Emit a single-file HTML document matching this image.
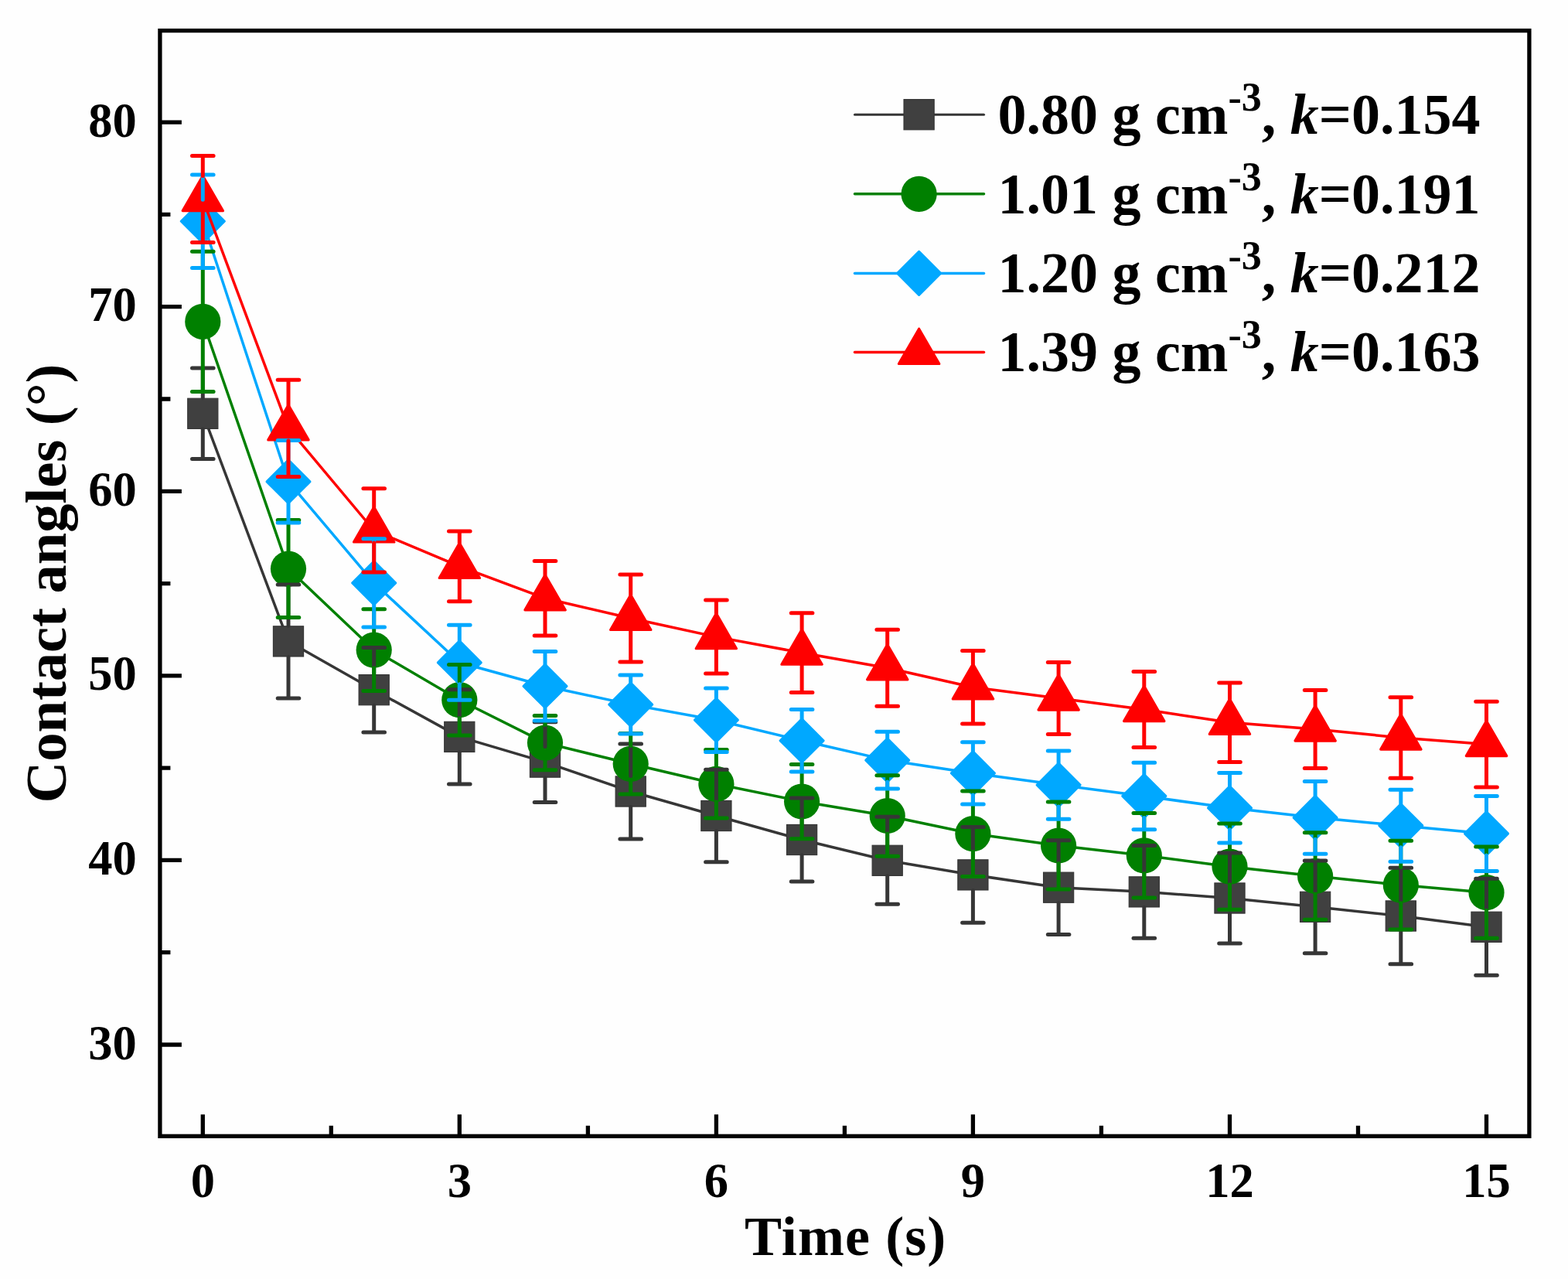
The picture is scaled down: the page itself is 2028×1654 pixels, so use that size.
<!DOCTYPE html>
<html><head><meta charset="utf-8"><title>Contact angles vs time</title>
<style>
html,body{margin:0;padding:0;background:#fefefe;}
svg{display:block;}
text{font-family:"Liberation Serif","Times New Roman",serif;font-weight:bold;fill:#000;}
</style></head><body>
<svg width="2028" height="1654" viewBox="0 0 2028 1654">
<rect x="0" y="0" width="2028" height="1654" fill="#fefefe"/>

<path d="M262.3 534.9 L373 829.4 L483.7 892.2 L594.3 952.9 L705 985.6 L815.7 1023.5 L926.4 1055 L1037.1 1086 L1147.7 1112.8 L1258.4 1131.4 L1369.1 1147.7 L1479.8 1153.3 L1590.5 1161.5 L1701.1 1172.8 L1811.8 1184.5 L1922.5 1198.8" fill="none" stroke="#363636" stroke-width="3.5" stroke-linejoin="round"/>
<g><rect x="242.7" y="515.2" width="39.2" height="39.2" fill="#404040" stroke="#333" stroke-width="1.1"/><rect x="353.4" y="809.8" width="39.2" height="39.2" fill="#404040" stroke="#333" stroke-width="1.1"/><rect x="464.1" y="872.6" width="39.2" height="39.2" fill="#404040" stroke="#333" stroke-width="1.1"/><rect x="574.7" y="933.3" width="39.2" height="39.2" fill="#404040" stroke="#333" stroke-width="1.1"/><rect x="685.4" y="966" width="39.2" height="39.2" fill="#404040" stroke="#333" stroke-width="1.1"/><rect x="796.1" y="1003.9" width="39.2" height="39.2" fill="#404040" stroke="#333" stroke-width="1.1"/><rect x="906.8" y="1035.4" width="39.2" height="39.2" fill="#404040" stroke="#333" stroke-width="1.1"/><rect x="1017.5" y="1066.4" width="39.2" height="39.2" fill="#404040" stroke="#333" stroke-width="1.1"/><rect x="1128.1" y="1093.2" width="39.2" height="39.2" fill="#404040" stroke="#333" stroke-width="1.1"/><rect x="1238.8" y="1111.8" width="39.2" height="39.2" fill="#404040" stroke="#333" stroke-width="1.1"/><rect x="1349.5" y="1128.1" width="39.2" height="39.2" fill="#404040" stroke="#333" stroke-width="1.1"/><rect x="1460.2" y="1133.8" width="39.2" height="39.2" fill="#404040" stroke="#333" stroke-width="1.1"/><rect x="1570.9" y="1141.9" width="39.2" height="39.2" fill="#404040" stroke="#333" stroke-width="1.1"/><rect x="1681.5" y="1153.2" width="39.2" height="39.2" fill="#404040" stroke="#333" stroke-width="1.1"/><rect x="1792.2" y="1164.9" width="39.2" height="39.2" fill="#404040" stroke="#333" stroke-width="1.1"/><rect x="1902.9" y="1179.2" width="39.2" height="39.2" fill="#404040" stroke="#333" stroke-width="1.1"/></g>
<path d="M262.3 415.9 L373 735.6 L483.7 840.6 L594.3 905.2 L705 960.6 L815.7 987.8 L926.4 1013.8 L1037.1 1036.5 L1147.7 1055 L1258.4 1078.2 L1369.1 1093.5 L1479.8 1106.3 L1590.5 1120.7 L1701.1 1133 L1811.8 1144.6 L1922.5 1154.2" fill="none" stroke="#008000" stroke-width="3.5" stroke-linejoin="round"/>
<g><circle cx="262.3" cy="415.9" r="23.1" fill="#008000"/><circle cx="373" cy="735.6" r="23.1" fill="#008000"/><circle cx="483.7" cy="840.6" r="23.1" fill="#008000"/><circle cx="594.3" cy="905.2" r="23.1" fill="#008000"/><circle cx="705" cy="960.6" r="23.1" fill="#008000"/><circle cx="815.7" cy="987.8" r="23.1" fill="#008000"/><circle cx="926.4" cy="1013.8" r="23.1" fill="#008000"/><circle cx="1037.1" cy="1036.5" r="23.1" fill="#008000"/><circle cx="1147.7" cy="1055" r="23.1" fill="#008000"/><circle cx="1258.4" cy="1078.2" r="23.1" fill="#008000"/><circle cx="1369.1" cy="1093.5" r="23.1" fill="#008000"/><circle cx="1479.8" cy="1106.3" r="23.1" fill="#008000"/><circle cx="1590.5" cy="1120.7" r="23.1" fill="#008000"/><circle cx="1701.1" cy="1133" r="23.1" fill="#008000"/><circle cx="1811.8" cy="1144.6" r="23.1" fill="#008000"/><circle cx="1922.5" cy="1154.2" r="23.1" fill="#008000"/></g>
<path d="M262.3 286.2 L373 622.8 L483.7 753.9 L594.3 856.8 L705 887.3 L815.7 911.1 L926.4 931.2 L1037.1 957.8 L1147.7 983.1 L1258.4 999.9 L1369.1 1015.1 L1479.8 1029.5 L1590.5 1044.8 L1701.1 1057.3 L1811.8 1067.7 L1922.5 1078" fill="none" stroke="#00a8ff" stroke-width="3.5" stroke-linejoin="round"/>
<g><path d="M262.3 258.4L290.2 286.2L262.3 314.1L234.4 286.2Z" fill="#00a8ff" stroke="#00a8ff" stroke-width="3.2" stroke-linejoin="round"/><path d="M373 594.9L400.9 622.8L373 650.6L345.1 622.8Z" fill="#00a8ff" stroke="#00a8ff" stroke-width="3.2" stroke-linejoin="round"/><path d="M483.7 726L511.6 753.9L483.7 781.8L455.8 753.9Z" fill="#00a8ff" stroke="#00a8ff" stroke-width="3.2" stroke-linejoin="round"/><path d="M594.3 828.9L622.2 856.8L594.3 884.6L566.4 856.8Z" fill="#00a8ff" stroke="#00a8ff" stroke-width="3.2" stroke-linejoin="round"/><path d="M705 859.4L732.9 887.3L705 915.2L677.1 887.3Z" fill="#00a8ff" stroke="#00a8ff" stroke-width="3.2" stroke-linejoin="round"/><path d="M815.7 883.2L843.6 911.1L815.7 939L787.8 911.1Z" fill="#00a8ff" stroke="#00a8ff" stroke-width="3.2" stroke-linejoin="round"/><path d="M926.4 903.4L954.3 931.2L926.4 959.1L898.5 931.2Z" fill="#00a8ff" stroke="#00a8ff" stroke-width="3.2" stroke-linejoin="round"/><path d="M1037.1 929.9L1065 957.8L1037.1 985.6L1009.2 957.8Z" fill="#00a8ff" stroke="#00a8ff" stroke-width="3.2" stroke-linejoin="round"/><path d="M1147.7 955.2L1175.6 983.1L1147.7 1011L1119.8 983.1Z" fill="#00a8ff" stroke="#00a8ff" stroke-width="3.2" stroke-linejoin="round"/><path d="M1258.4 972L1286.3 999.9L1258.4 1027.8L1230.5 999.9Z" fill="#00a8ff" stroke="#00a8ff" stroke-width="3.2" stroke-linejoin="round"/><path d="M1369.1 987.2L1397 1015.1L1369.1 1043L1341.2 1015.1Z" fill="#00a8ff" stroke="#00a8ff" stroke-width="3.2" stroke-linejoin="round"/><path d="M1479.8 1001.6L1507.7 1029.5L1479.8 1057.4L1451.9 1029.5Z" fill="#00a8ff" stroke="#00a8ff" stroke-width="3.2" stroke-linejoin="round"/><path d="M1590.5 1016.9L1618.4 1044.8L1590.5 1072.7L1562.6 1044.8Z" fill="#00a8ff" stroke="#00a8ff" stroke-width="3.2" stroke-linejoin="round"/><path d="M1701.1 1029.4L1729 1057.3L1701.1 1085.2L1673.2 1057.3Z" fill="#00a8ff" stroke="#00a8ff" stroke-width="3.2" stroke-linejoin="round"/><path d="M1811.8 1039.8L1839.7 1067.7L1811.8 1095.6L1783.9 1067.7Z" fill="#00a8ff" stroke="#00a8ff" stroke-width="3.2" stroke-linejoin="round"/><path d="M1922.5 1050L1950.4 1078L1922.5 1105.9L1894.6 1078Z" fill="#00a8ff" stroke="#00a8ff" stroke-width="3.2" stroke-linejoin="round"/></g>
<path d="M262.3 257.6 L373 553.9 L483.7 686 L594.3 732.4 L705 773.7 L815.7 799.5 L926.4 823.6 L1037.1 844.2 L1147.7 863.7 L1258.4 888.8 L1369.1 903 L1479.8 917.5 L1590.5 934.3 L1701.1 943 L1811.8 954 L1922.5 962.5" fill="none" stroke="#ff0000" stroke-width="3.5" stroke-linejoin="round"/>
<g><path d="M262.3 227.4L288.4 272.6L236.2 272.6Z" fill="#ff0000" stroke="#ff0000" stroke-width="3.2" stroke-linejoin="round"/><path d="M373 523.7L399.1 568.9L346.8 568.9Z" fill="#ff0000" stroke="#ff0000" stroke-width="3.2" stroke-linejoin="round"/><path d="M483.7 655.8L509.8 701L457.5 701Z" fill="#ff0000" stroke="#ff0000" stroke-width="3.2" stroke-linejoin="round"/><path d="M594.3 702.2L620.5 747.5L568.2 747.5Z" fill="#ff0000" stroke="#ff0000" stroke-width="3.2" stroke-linejoin="round"/><path d="M705 743.5L731.2 788.8L678.9 788.8Z" fill="#ff0000" stroke="#ff0000" stroke-width="3.2" stroke-linejoin="round"/><path d="M815.7 769.3L841.9 814.5L789.6 814.5Z" fill="#ff0000" stroke="#ff0000" stroke-width="3.2" stroke-linejoin="round"/><path d="M926.4 793.4L952.5 838.7L900.2 838.7Z" fill="#ff0000" stroke="#ff0000" stroke-width="3.2" stroke-linejoin="round"/><path d="M1037.1 814L1063.2 859.2L1010.9 859.2Z" fill="#ff0000" stroke="#ff0000" stroke-width="3.2" stroke-linejoin="round"/><path d="M1147.7 833.5L1173.9 878.8L1121.6 878.8Z" fill="#ff0000" stroke="#ff0000" stroke-width="3.2" stroke-linejoin="round"/><path d="M1258.4 858.6L1284.6 903.9L1232.3 903.9Z" fill="#ff0000" stroke="#ff0000" stroke-width="3.2" stroke-linejoin="round"/><path d="M1369.1 872.8L1395.3 918.1L1343 918.1Z" fill="#ff0000" stroke="#ff0000" stroke-width="3.2" stroke-linejoin="round"/><path d="M1479.8 887.3L1505.9 932.6L1453.6 932.6Z" fill="#ff0000" stroke="#ff0000" stroke-width="3.2" stroke-linejoin="round"/><path d="M1590.5 904.1L1616.6 949.4L1564.3 949.4Z" fill="#ff0000" stroke="#ff0000" stroke-width="3.2" stroke-linejoin="round"/><path d="M1701.1 912.8L1727.3 958.1L1675 958.1Z" fill="#ff0000" stroke="#ff0000" stroke-width="3.2" stroke-linejoin="round"/><path d="M1811.8 923.9L1838 969.1L1785.7 969.1Z" fill="#ff0000" stroke="#ff0000" stroke-width="3.2" stroke-linejoin="round"/><path d="M1922.5 932.4L1948.7 977.6L1896.3 977.6Z" fill="#ff0000" stroke="#ff0000" stroke-width="3.2" stroke-linejoin="round"/></g>
<path d="M262.3 514.8V476.1M248.5 476.1H276.1M262.3 555V593.6M248.5 593.6H276.1M373 809.3V755.9M359.2 755.9H386.8M373 849.5V902.9M359.2 902.9H386.8M483.7 872.1V837.4M469.9 837.4H497.5M483.7 912.3V947M469.9 947H497.5M594.3 932.8V891.7M580.5 891.7H608.1M594.3 973V1014.1M580.5 1014.1H608.1M705 965.5V933.8M691.2 933.8H718.8M705 1005.8V1037.5M691.2 1037.5H718.8M815.7 1003.4V962M801.9 962H829.5M815.7 1043.6V1085M801.9 1085H829.5M926.4 1034.9V995.2M912.6 995.2H940.2M926.4 1075.1V1114.8M912.6 1114.8H940.2M1037.1 1065.9V1031.9M1023.3 1031.9H1050.9M1037.1 1106V1140M1023.3 1140H1050.9M1147.7 1092.7V1056.3M1133.9 1056.3H1161.5M1147.7 1132.8V1169.2M1133.9 1169.2H1161.5M1258.4 1111.3V1069.5M1244.6 1069.5H1272.2M1258.4 1151.5V1193.3M1244.6 1193.3H1272.2M1369.1 1127.6V1086.8M1355.3 1086.8H1382.9M1369.1 1167.8V1208.5M1355.3 1208.5H1382.9M1479.8 1133.2V1093.4M1466 1093.4H1493.6M1479.8 1173.4V1213.3M1466 1213.3H1493.6M1590.5 1141.4V1102.9M1576.7 1102.9H1604.3M1590.5 1181.5V1220M1576.7 1220H1604.3M1701.1 1152.8V1112.9M1687.3 1112.9H1714.9M1701.1 1192.9V1232.8M1687.3 1232.8H1714.9M1811.8 1164.4V1122.3M1798 1122.3H1825.6M1811.8 1204.6V1246.7M1798 1246.7H1825.6M1922.5 1178.7V1136.2M1908.7 1136.2H1936.3M1922.5 1218.8V1261.3M1908.7 1261.3H1936.3" fill="none" stroke="#363636" stroke-width="5.0" stroke-linecap="round"/>
<path d="M262.3 392.8V325.3M248.5 325.3H276.1M262.3 439V506.5M248.5 506.5H276.1M373 712.5V672.6M359.2 672.6H386.8M373 758.7V798.6M359.2 798.6H386.8M483.7 817.5V787.7M469.9 787.7H497.5M483.7 863.7V893.5M469.9 893.5H497.5M594.3 882.1V859.5M580.5 859.5H608.1M594.3 928.4V951M580.5 951H608.1M705 937.5V925.5M691.2 925.5H718.8M705 983.8V995.8M691.2 995.8H718.8M815.7 964.6V948.6M801.9 948.6H829.5M815.7 1010.9V1026.9M801.9 1026.9H829.5M926.4 990.6V969.5M912.6 969.5H940.2M926.4 1036.8V1058M912.6 1058H940.2M1037.1 1013.4V988.4M1023.3 988.4H1050.9M1037.1 1059.6V1084.7M1023.3 1084.7H1050.9M1147.7 1031.9V1002.8M1133.9 1002.8H1161.5M1147.7 1078.1V1107.2M1133.9 1107.2H1161.5M1258.4 1055.2V1022.9M1244.6 1022.9H1272.2M1258.4 1101.3V1133.6M1244.6 1133.6H1272.2M1369.1 1070.4V1037M1355.3 1037H1382.9M1369.1 1116.6V1150M1355.3 1150H1382.9M1479.8 1083.2V1051.6M1466 1051.6H1493.6M1479.8 1129.4V1161.1M1466 1161.1H1493.6M1590.5 1097.6V1065.1M1576.7 1065.1H1604.3M1590.5 1143.8V1176.2M1576.7 1176.2H1604.3M1701.1 1109.9V1076.7M1687.3 1076.7H1714.9M1701.1 1156V1189.2M1687.3 1189.2H1714.9M1811.8 1121.5V1087.3M1798 1087.3H1825.6M1811.8 1167.7V1201.9M1798 1201.9H1825.6M1922.5 1131.1V1095M1908.7 1095H1936.3M1922.5 1177.2V1213.3M1908.7 1213.3H1936.3" fill="none" stroke="#008000" stroke-width="5.0" stroke-linecap="round"/>
<path d="M262.3 258.2V226M248.5 226H276.1M262.3 314.2V346.5M248.5 346.5H276.1M373 594.8V569.4M359.2 569.4H386.8M373 650.8V676.1M359.2 676.1H386.8M483.7 725.9V696.7M469.9 696.7H497.5M483.7 781.9V811M469.9 811H497.5M594.3 828.8V808.3M580.5 808.3H608.1M594.3 884.8V905.2M580.5 905.2H608.1M705 859.3V842.6M691.2 842.6H718.8M705 915.3V932M691.2 932H718.8M815.7 883.1V873.1M801.9 873.1H829.5M815.7 939.1V949.1M801.9 949.1H829.5M926.4 903.2V890.1M912.6 890.1H940.2M926.4 959.2V972.4M912.6 972.4H940.2M1037.1 929.8V917.5M1023.3 917.5H1050.9M1037.1 985.8V998M1023.3 998H1050.9M1147.7 955.1V946.3M1133.9 946.3H1161.5M1147.7 1011.1V1020M1133.9 1020H1161.5M1258.4 971.9V959.7M1244.6 959.7H1272.2M1258.4 1027.9V1040.1M1244.6 1040.1H1272.2M1369.1 987.1V970.9M1355.3 970.9H1382.9M1369.1 1043.1V1059.3M1355.3 1059.3H1382.9M1479.8 1001.5V986.2M1466 986.2H1493.6M1479.8 1057.5V1072.7M1466 1072.7H1493.6M1590.5 1016.8V999.4M1576.7 999.4H1604.3M1590.5 1072.8V1090.1M1576.7 1090.1H1604.3M1701.1 1029.3V1010.5M1687.3 1010.5H1714.9M1701.1 1085.3V1104.2M1687.3 1104.2H1714.9M1811.8 1039.7V1021.2M1798 1021.2H1825.6M1811.8 1095.7V1114.2M1798 1114.2H1825.6M1922.5 1050V1029.4M1908.7 1029.4H1936.3M1922.5 1106V1126.5M1908.7 1126.5H1936.3" fill="none" stroke="#00a8ff" stroke-width="5.0" stroke-linecap="round"/>
<path d="M262.3 227.6V201.6M248.5 201.6H276.1M262.3 273.6V313.5M248.5 313.5H276.1M373 523.9V491.2M359.2 491.2H386.8M373 569.9V616.5M359.2 616.5H386.8M483.7 656V631.8M469.9 631.8H497.5M483.7 702V740.1M469.9 740.1H497.5M594.3 702.4V687M580.5 687H608.1M594.3 748.4V777.8M580.5 777.8H608.1M705 743.7V725.4M691.2 725.4H718.8M705 789.7V822M691.2 822H718.8M815.7 769.5V743M801.9 743H829.5M815.7 815.5V855.9M801.9 855.9H829.5M926.4 793.6V776.1M912.6 776.1H940.2M926.4 839.6V871.1M912.6 871.1H940.2M1037.1 814.2V792.7M1023.3 792.7H1050.9M1037.1 860.2V895.6M1023.3 895.6H1050.9M1147.7 833.7V814.2M1133.9 814.2H1161.5M1147.7 879.7V913.2M1133.9 913.2H1161.5M1258.4 858.8V841.5M1244.6 841.5H1272.2M1258.4 904.8V936.1M1244.6 936.1H1272.2M1369.1 873V856.5M1355.3 856.5H1382.9M1369.1 919V949.5M1355.3 949.5H1382.9M1479.8 887.5V868.4M1466 868.4H1493.6M1479.8 933.5V966.6M1466 966.6H1493.6M1590.5 904.3V883M1576.7 883H1604.3M1590.5 950.3V985.6M1576.7 985.6H1604.3M1701.1 913V892.5M1687.3 892.5H1714.9M1701.1 959V993.5M1687.3 993.5H1714.9M1811.8 924V901.8M1798 901.8H1825.6M1811.8 970V1006.3M1798 1006.3H1825.6M1922.5 932.5V907.2M1908.7 907.2H1936.3M1922.5 978.5V1017.9M1908.7 1017.9H1936.3" fill="none" stroke="#ff0000" stroke-width="5.0" stroke-linecap="round"/>
<rect x="206.9" y="39.6" width="1771" height="1429.7" fill="none" stroke="#000" stroke-width="5.3"/>
<path d="M206.9 1351H234.9M206.9 1112.4H234.9M206.9 873.8H234.9M206.9 635.3H234.9M206.9 396.7H234.9M206.9 158.1H234.9M206.9 1231.7H220.4M206.9 993.1H220.4M206.9 754.6H220.4M206.9 516H220.4M206.9 277.4H220.4M262.3 1469.3V1441.3M594.3 1469.3V1441.3M926.4 1469.3V1441.3M1258.4 1469.3V1441.3M1590.5 1469.3V1441.3M1922.5 1469.3V1441.3M428.3 1469.3V1455.8M760.4 1469.3V1455.8M1092.4 1469.3V1455.8M1424.4 1469.3V1455.8M1756.5 1469.3V1455.8" stroke="#000" stroke-width="5.3" fill="none"/>
<text x="176.8" y="1369.5" font-size="62.5" text-anchor="end">30</text>
<text x="176.8" y="1130.9" font-size="62.5" text-anchor="end">40</text>
<text x="176.8" y="892.3" font-size="62.5" text-anchor="end">50</text>
<text x="176.8" y="653.8" font-size="62.5" text-anchor="end">60</text>
<text x="176.8" y="415.2" font-size="62.5" text-anchor="end">70</text>
<text x="176.8" y="176.6" font-size="62.5" text-anchor="end">80</text>
<text x="262.3" y="1548" font-size="62.5" text-anchor="middle">0</text>
<text x="594.3" y="1548" font-size="62.5" text-anchor="middle">3</text>
<text x="926.4" y="1548" font-size="62.5" text-anchor="middle">6</text>
<text x="1258.4" y="1548" font-size="62.5" text-anchor="middle">9</text>
<text x="1590.5" y="1548" font-size="62.5" text-anchor="middle">12</text>
<text x="1922.5" y="1548" font-size="62.5" text-anchor="middle">15</text>
<text x="963" y="1623.1" font-size="72" letter-spacing="1.1">Time (s)</text>
<text transform="translate(85,1038.5) rotate(-90)" font-size="74.5">Contact angles (°)</text>
<path d="M1105.5 148.2H1272.5" stroke="#363636" stroke-width="3.0" stroke-linecap="round"/>
<rect x="1169" y="128.6" width="39.2" height="39.2" fill="#404040" stroke="#333" stroke-width="1.1"/>
<text x="1290.5" y="173" font-size="74">0.80 g cm<tspan font-size="52" dy="-30">-3</tspan><tspan dy="30">, </tspan><tspan font-style="italic">k</tspan>=0.154</text>
<path d="M1105.5 250.8H1272.5" stroke="#008000" stroke-width="3.5" stroke-linecap="round"/>
<circle cx="1188.6" cy="250.8" r="23.1" fill="#008000"/>
<text x="1290.5" y="275.6" font-size="74">1.01 g cm<tspan font-size="52" dy="-30">-3</tspan><tspan dy="30">, </tspan><tspan font-style="italic">k</tspan>=0.191</text>
<path d="M1105.5 353.4H1272.5" stroke="#00a8ff" stroke-width="3.5" stroke-linecap="round"/>
<path d="M1188.6 325.5L1216.5 353.4L1188.6 381.3L1160.7 353.4Z" fill="#00a8ff" stroke="#00a8ff" stroke-width="3.2" stroke-linejoin="round"/>
<text x="1290.5" y="378.2" font-size="74">1.20 g cm<tspan font-size="52" dy="-30">-3</tspan><tspan dy="30">, </tspan><tspan font-style="italic">k</tspan>=0.212</text>
<path d="M1105.5 455.4H1272.5" stroke="#ff0000" stroke-width="3.5" stroke-linecap="round"/>
<path d="M1188.6 425.2L1214.8 470.5L1162.4 470.5Z" fill="#ff0000" stroke="#ff0000" stroke-width="3.2" stroke-linejoin="round"/>
<text x="1290.5" y="480.2" font-size="74">1.39 g cm<tspan font-size="52" dy="-30">-3</tspan><tspan dy="30">, </tspan><tspan font-style="italic">k</tspan>=0.163</text>
</svg>
</body></html>
